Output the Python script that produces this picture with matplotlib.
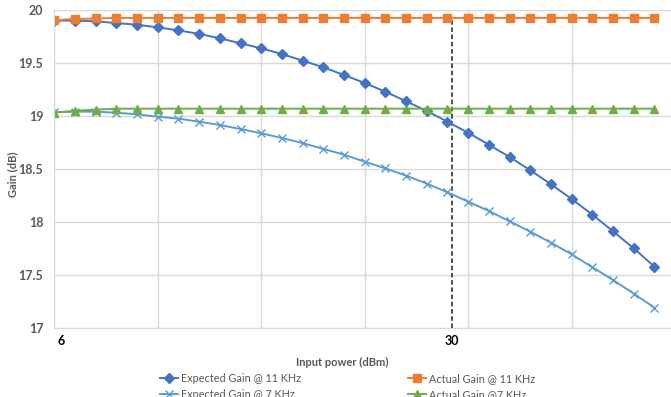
import matplotlib
matplotlib.use("Agg")
import matplotlib.pyplot as plt
import numpy as np

power_dbm = [6 + 1.25 * i for i in range(30)]
expected_11k = [19.90, 19.90, 19.893, 19.877, 19.861, 19.836, 19.808, 19.774, 19.733, 19.686,
                19.638, 19.585, 19.522, 19.459, 19.387, 19.311, 19.229, 19.139, 19.047, 18.946,
                18.842, 18.729, 18.613, 18.488, 18.356, 18.217, 18.069, 17.912, 17.752, 17.578]
expected_7k = [19.035, 19.041, 19.041, 19.031, 19.016, 18.993, 18.975, 18.946, 18.915, 18.877,
               18.837, 18.792, 18.745, 18.689, 18.635, 18.569, 18.506, 18.437, 18.362, 18.28,
               18.192, 18.104, 18.006, 17.909, 17.805, 17.695, 17.573, 17.453, 17.324, 17.192]
actual_11k = [19.905, 19.915, 19.92] + [19.925] * 27
actual_7k = [19.031, 19.05, 19.06] + [19.069] * 27
marker_power = 30
xtick_labels = ["6", "30"]
yticks = [17, 17.5, 18, 18.5, 19, 19.5, 20]
ytick_labels = ["17", "17.5", "18", "18.5", "19", "19.5", "20"]

plt.rcParams['font.family'] = ['Lato', 'DejaVu Sans']

fig = plt.figure(figsize=(6.71, 3.97), dpi=100)
ax = fig.add_axes([54.3 / 671, 1 - 328 / 397, (671 - 54.3) / 671, (328 - 10) / 397])

grid_c = '#d9d9d9'
l1, = ax.plot(power_dbm, expected_11k, color='#4472C4', marker='D', markersize=5, lw=1.4,
              label='Expected Gain @ 11 KHz')
l2, = ax.plot(power_dbm, expected_7k, color='#5B9BD5', marker='x', markersize=6, mew=1.0, lw=1.4,
              label='Expected Gain @ 7 KHz')
l3, = ax.plot(power_dbm, actual_11k, color='#ED7D31', marker='s', markersize=5.5, lw=1.4,
              label='Actual Gain @ 11 KHz')
l4, = ax.plot(power_dbm, actual_7k, color='#70AD47', marker='^', markersize=6, lw=1.4,
              label='Actual Gain @7 KHz')

ax.vlines(marker_power, 17, 19.91, colors='#404040', linestyles=(0, (2.5, 1.5)), lw=1.3, zorder=1)

step = power_dbm[1] - power_dbm[0]
ax.set_xlim(power_dbm[0], power_dbm[0] + 29.8 * step)
ax.set_ylim(17, 20)
ax.set_xticks([power_dbm[0] + 5 * step * k for k in range(6)], minor=True)
ax.set_xticks([])
ax.set_yticks(yticks)
ax.set_yticklabels(ytick_labels, fontsize=9, fontweight='bold', color='#595959')
ax.tick_params(axis='y', length=0, pad=8)
ax.tick_params(axis='x', which='both', length=0)
ax.grid(True, which='minor', axis='x', color=grid_c, lw=1.0)
ax.grid(True, which='major', axis='y', color=grid_c, lw=1.0)
ax.set_axisbelow(True)
for s in ['top', 'right']:
    ax.spines[s].set_visible(False)
ax.spines['left'].set_color(grid_c)
ax.spines['bottom'].set_color(grid_c)

# x labels
ax.text(power_dbm[0] + 0.35 * step, 16.93, xtick_labels[0], ha='center', va='top',
        fontsize=9, fontweight='bold', color='black')
ax.text(marker_power, 16.93, xtick_labels[1], ha='center', va='top',
        fontsize=9, fontweight='bold', color='black')

fig.text(342 / 671, 1 - 362 / 397, 'Input power (dBm)', ha='center', va='center',
         fontsize=8, fontweight='bold', color='#595959')
fig.text(12.5 / 671, 1 - 174 / 397, 'Gain (dB)', ha='center', va='center', rotation=90,
         fontsize=8, fontweight='bold', color='#595959')

leg_kw = dict(ncol=1, loc='upper left', frameon=False, fontsize=7.8, handlelength=1.7,
              handletextpad=0.2, labelspacing=0.45, borderaxespad=0, borderpad=0)
leg1 = fig.legend(handles=[l1, l2], bbox_to_anchor=(160 / 671, 1 - 373 / 397), **leg_kw)
leg2 = fig.legend(handles=[l3, l4], bbox_to_anchor=(408 / 671, 1 - 373 / 397), **leg_kw)
for leg in (leg1, leg2):
    for t in leg.get_texts():
        t.set_color('#595959')

fig.savefig('out.png', dpi=100)
